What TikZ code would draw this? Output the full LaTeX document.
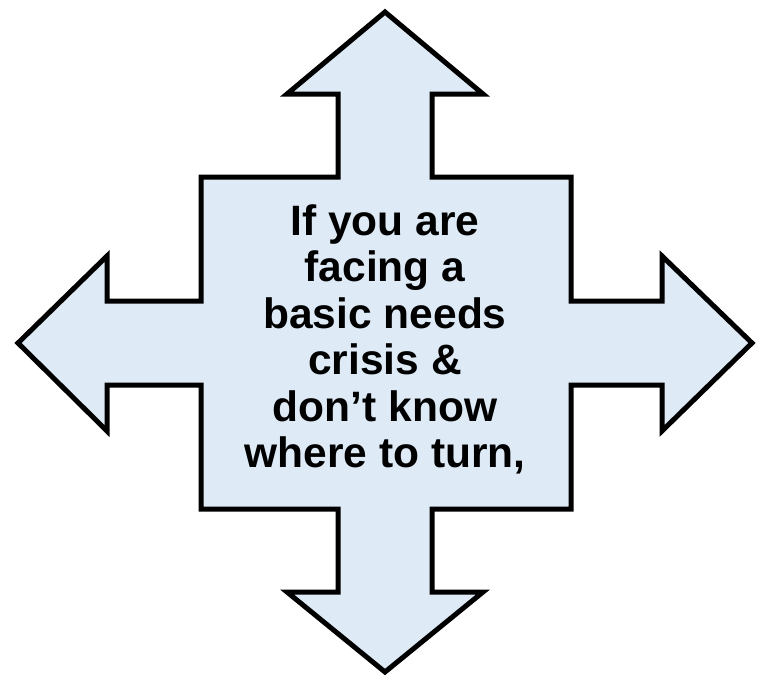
\documentclass[tikz,border=0pt]{standalone}
\usepackage{fontspec}
\setmainfont{Liberation Sans}
\definecolor{arrowfill}{HTML}{DEEAF6}
\begin{document}
\begin{tikzpicture}[x=1pt,y=-1pt,
  arrowshape/.style={draw=black,fill=arrowfill,line width=5pt,line join=miter},
  label/.style={align=center,font=\fontsize{42.5}{46.5}\selectfont\bfseries,inner sep=0pt}]
\useasboundingbox (0,0) rectangle (766,681);
\draw[arrowshape] (385,12) -- (483,94) -- (432,94) -- (432,177) -- (571,177) -- (571,301)
  -- (662,301) -- (662,256) -- (752,343) -- (662,431) -- (662,385) -- (571,385)
  -- (571,509) -- (432,509) -- (432,592) -- (483,592) -- (385,672) -- (287,592)
  -- (338,592) -- (338,509) -- (201,509) -- (201,385) -- (107,385) -- (107,431)
  -- (18,343) -- (107,256) -- (107,301) -- (201,301) -- (201,177) -- (338,177)
  -- (338,94) -- (287,94) -- cycle;
\node[label,anchor=base] (msg) at (385,467.5) {If you are\\facing a\\basic needs\\crisis \&\\don’t know\\where to turn,};
\end{tikzpicture}
\end{document}
